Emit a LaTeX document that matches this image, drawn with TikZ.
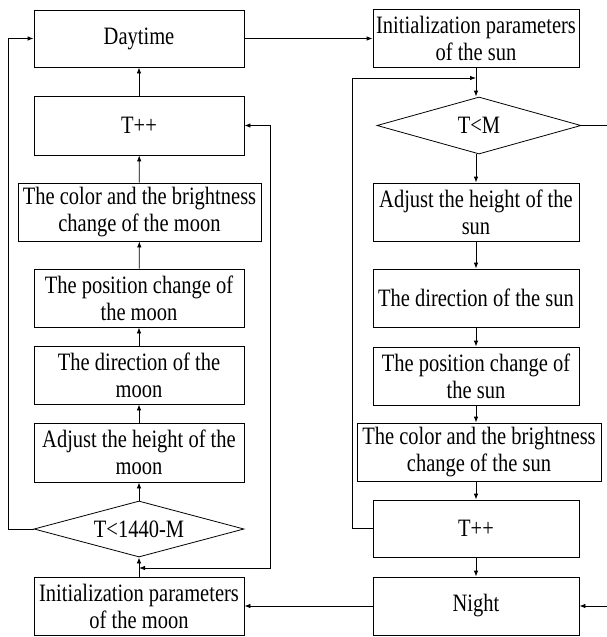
\documentclass[tikz,border=0pt]{standalone}
\usepackage{fontspec}
\setmainfont{Liberation Serif}
\newfontfamily\tallfont[FakeStretch=0.82]{Liberation Serif}
\usetikzlibrary{arrows.meta,shapes.geometric}
\begin{document}
\begin{tikzpicture}[x=1pt,y=-1pt,
  box/.style={draw, line width=0.8pt, align=center, inner sep=0pt, font=\tallfont\fontsize{25}{27}\selectfont},
  dec/.style={draw, diamond, aspect=3.75, line width=0.8pt, inner sep=0pt, font=\tallfont\fontsize{25}{27}\selectfont},
  conn/.style={line width=0.8pt},
  arr/.style={conn, -{Latex[length=6pt,width=4.5pt]}}]
\useasboundingbox (0,0) rectangle (607,637);
% left column
\node[box, minimum width=210pt, minimum height=57pt] (day) at (139,38.5) {Daytime};
\node[box, minimum width=210pt, minimum height=59pt] (tl) at (139,125.5) {T++};
\node[box, minimum width=243pt, minimum height=58pt] (colm) at (139.5,212) {The color and the brightness\\change of the moon};
\node[box, minimum width=210pt, minimum height=58pt] (posm) at (139,298) {The position change of\\the moon};
\node[box, minimum width=210pt, minimum height=58pt] (dirm) at (139,375) {The direction of the\\moon};
\node[box, minimum width=210pt, minimum height=59pt] (adjm) at (139,452.5) {Adjust the height of the\\moon};
\node[dec, minimum width=210pt, minimum height=56pt] (d1) at (139,529) {T<1440-M};
\node[box, minimum width=210pt, minimum height=58pt] (initm) at (139,606) {Initialization parameters\\of the moon};
% right column
\node[box, minimum width=206pt, minimum height=58pt] (inits) at (476,38) {Initialization parameters\\of the sun};
\node[dec, minimum width=204pt, minimum height=57pt] (d2) at (479,125.5) {T<M};
\node[box, minimum width=206pt, minimum height=58pt] (adjs) at (476,212) {Adjust the height of the\\sun};
\node[box, minimum width=206pt, minimum height=58pt] (dirs) at (476,298) {The direction of the sun};
\node[box, minimum width=206pt, minimum height=58pt] (poss) at (476,376) {The position change of\\the sun};
\node[box, minimum width=244pt, minimum height=58pt] (cols) at (479,452) {The color and the brightness\\change of the sun};
\node[box, minimum width=206pt, minimum height=57pt] (tr) at (476,528.5) {T++};
\node[box, minimum width=206pt, minimum height=58pt] (night) at (476,606) {Night};
% coordinates
\coordinate (lA) at (8,529);
\coordinate (lB) at (8,38.5);
\coordinate (rA) at (270,125.5);
\coordinate (rB) at (270,568);
\coordinate (rC) at (139,568);
\coordinate (sA) at (352,528.5);
\coordinate (sB) at (352,78);
\coordinate (sC) at (476,78);
\coordinate (eT) at (607,125.5);
\coordinate (eN) at (607,606);
% left connectors
\draw[arr] (tl) -- (day);
\draw[arr] (colm) -- (tl);
\draw[arr] (posm) -- (colm);
\draw[arr] (dirm) -- (posm);
\draw[arr] (adjm) -- (dirm);
\draw[arr] (d1) -- (adjm);
\draw[arr] (initm) -- (d1);
\draw[arr] (d1.west) -- (lA) -- (lB) -- (day.west);
\draw[conn, {Latex[length=6pt,width=4.5pt]}-{Latex[length=6pt,width=4.5pt]}] (tl.east) -- (rA) -- (rB) -- (rC);
% right connectors
\draw[arr] (day.east) -- (inits.west |- day.east);
\draw[arr] (inits.south) -- (inits.south |- d2.north);
\draw[arr] (inits.south |- d2.south) -- (adjs.north);
\draw[arr] (adjs) -- (dirs);
\draw[arr] (dirs) -- (poss);
\draw[arr] (poss.south) -- (poss.south |- cols.north);
\draw[arr] (poss.south |- cols.south) -- (tr.north);
\draw[arr] (tr) -- (night);
\draw[arr] (tr.west) -- (sA) -- (sB) -- (sC);
\draw[conn] (d2.east) -- (eT);
\draw[arr] (night.west) -- (initm.east);
\draw[arr] (eN) -- (night.east);
\end{tikzpicture}
\end{document}
